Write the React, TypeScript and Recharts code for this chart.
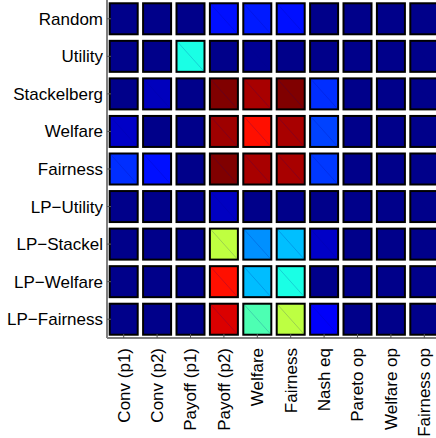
import { ScatterChart, Scatter, XAxis, YAxis } from 'recharts'

// rows (methods) and columns (metrics)
const methods = ['Random', 'Utility', 'Stackelberg', 'Welfare', 'Fairness', 'LP\u2212Utility', 'LP\u2212Stackel', 'LP\u2212Welfare', 'LP\u2212Fairness']
const metrics = ['Conv (p1)', 'Conv (p2)', 'Payoff (p1)', 'Payoff (p2)', 'Welfare', 'Fairness', 'Nash eq', 'Pareto op', 'Welfare op', 'Fairness op']

// normalised values (0..1)
const random = [0.01, 0.01, 0.01, 0.14, 0.15, 0.14, 0.01, 0.01, 0.01, 0.01]
const utility = [0.01, 0.01, 0.4, 0.01, 0.02, 0.01, 0.01, 0.01, 0.01, 0.01]
const stackelberg = [0.01, 0.06, 0.01, 1.0, 0.96, 1.0, 0.17, 0.01, 0.01, 0.01]
const welfare = [0.07, 0.01, 0.01, 0.97, 0.86, 0.96, 0.19, 0.01, 0.01, 0.01]
const fairness = [0.17, 0.14, 0.01, 1.0, 0.96, 0.96, 0.18, 0.01, 0.01, 0.01]
const lpUtility = [0.01, 0.01, 0.01, 0.065, 0.01, 0.01, 0.01, 0.01, 0.01, 0.01]
const lpStackel = [0.01, 0.01, 0.01, 0.5625, 0.266, 0.3125, 0.07, 0.01, 0.01, 0.01]
const lpWelfare = [0.01, 0.01, 0.01, 0.86, 0.31, 0.4, 0.01, 0.01, 0.01, 0.01]
const lpFairness = [0.01, 0.01, 0.01, 0.91, 0.45, 0.56, 0.12, 0.01, 0.01, 0.01]

const rows = [random, utility, stackelberg, welfare, fairness, lpUtility, lpStackel, lpWelfare, lpFairness]

const cells = rows.flatMap((vals, r) => vals.map((v, c) => ({ x: c, y: r, v })))

const clamp = (n: number) => Math.max(0, Math.min(1, n))
function jet(v: number) {
  const r = clamp(1.5 - Math.abs(4 * v - 3))
  const g = clamp(1.5 - Math.abs(4 * v - 2))
  const b = clamp(1.5 - Math.abs(4 * v - 1))
  return `rgb(${Math.round(r * 255)},${Math.round(g * 255)},${Math.round(b * 255)})`
}

const FONT = '"Liberation Sans", Arial, Helvetica, sans-serif'
const CELL_W = 28
const CELL_H = 31

function HeatCell(props: any) {
  const { cx, cy, payload } = props
  if (cx == null || cy == null) return null
  const x0 = cx - CELL_W / 2
  const y0 = cy - CELL_H / 2
  return (
    <g>
      <rect x={x0} y={y0} width={CELL_W} height={CELL_H} fill={jet(payload.v)} stroke="#000" strokeWidth={2} />
      <line x1={x0 + 1} y1={y0 + 1} x2={x0 + CELL_W - 1} y2={y0 + CELL_H - 1} stroke="rgba(0,0,140,0.3)" strokeWidth={0.6} />
    </g>
  )
}

function XTick(props: any) {
  const { x, y, payload } = props
  return (
    <g>
      <line x1={x} y1={y} x2={x} y2={y - 4} stroke="#555" strokeWidth={1} />
      <text
        transform={`translate(${x},${y + 10}) rotate(-90)`}
        textAnchor="end"
        dy="0.35em"
        fontSize={17}
        fontFamily={FONT}
        fill="#000"
      >
        {metrics[payload.value]}
      </text>
    </g>
  )
}

function YTick(props: any) {
  const { x, y, payload } = props
  return (
    <g>
      <line x1={x} y1={y} x2={x + 4} y2={y} stroke="#555" strokeWidth={1} />
      <text x={x - 4} y={y} dy="0.35em" textAnchor="end" fontSize={17} fontFamily={FONT} fill="#000">
        {methods[payload.value]}
      </text>
    </g>
  )
}

export default function App() {
  return (
    <div style={{ position: 'absolute', left: 0, top: 0, width: 436, height: 438, overflow: 'hidden', background: '#fff' }}>
      <ScatterChart width={441} height={438} margin={{ top: 0, right: 0, bottom: 0, left: 0 }}>
        <XAxis
          type="number"
          dataKey="x"
          domain={[-0.5, 9.5]}
          ticks={metrics.map((_, i) => i)}
          interval={0}
          height={100}
          tickSize={0}
          tickMargin={0}
          tickLine={false}
          axisLine={{ stroke: '#808080', strokeWidth: 2 }}
          tick={<XTick />}
        />
        <YAxis
          type="number"
          dataKey="y"
          domain={[-0.5, 8.5]}
          reversed
          ticks={methods.map((_, i) => i)}
          interval={0}
          width={107}
          tickSize={0}
          tickMargin={0}
          tickLine={false}
          axisLine={{ stroke: '#808080', strokeWidth: 2 }}
          tick={<YTick />}
        />
        <Scatter data={cells} shape={<HeatCell />} isAnimationActive={false} />
      </ScatterChart>
    </div>
  )
}
